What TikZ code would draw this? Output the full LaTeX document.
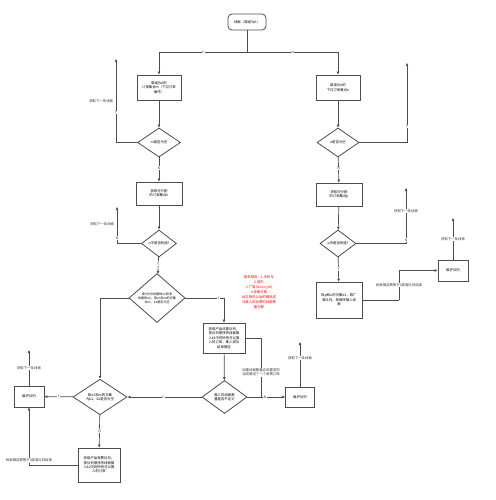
\documentclass[tikz,border=0pt]{standalone}
\usepackage{fontspec}
\newfontfamily\cjk{Noto Sans CJK SC}
\usetikzlibrary{shapes.geometric,arrows.meta}

\begin{document}
\begin{tikzpicture}[x=1pt,y=-1pt,
    line/.style={draw=black!70,line width=0.7pt},
    flow/.style={line,-{Triangle[length=3pt,width=2.4pt]}},
    box/.style={draw=black!70,line width=0.8pt,fill=white,align=center,inner sep=1pt,font=\cjk\fontsize{3.4}{4.4}\selectfont},
    startbox/.style={box,rounded corners=4pt},
    cond/.style={box,diamond,inner sep=0pt},
    lbl/.style={font=\cjk\fontsize{3.4}{4.4}\selectfont,fill=white,inner sep=0.6pt,text=black!80,align=center}]
        \useasboundingbox (0,0) rectangle (495,500);
        % start
        \node[startbox,minimum width=38pt,minimum height=16pt] (start) at (247,22) {线索（渠道为A）};
        \coordinate (split) at (247,52);
        % left column
        \node[box,minimum width=44pt,minimum height=25pt] (b1) at (159,87.5) {渠道为A的\\订单集合m（下过订单\\操作）};
        \node[cond,minimum width=43pt,minimum height=29pt] (d1) at (159,142.5) {m是否为空};
        \node[box,minimum width=46pt,minimum height=23pt] (b2) at (159,193.5) {获取可分配\\的订单集合n};
        \node[cond,minimum width=35pt,minimum height=27pt] (d2) at (159,243.5) {n中是否有值?};
        \node[cond,minimum width=56pt,minimum height=34pt,font=\cjk\fontsize{3.1}{4}\selectfont] (d3) at (157,298) {按n分为优惠的n1和非\\优惠的n2，取n1和m的交集\\为k1，k1是否为空};
        \node[box,minimum width=42pt,minimum height=30pt] (b4) at (224,338) {获取产品优惠队列，\\按队列顺序将线索推\\入k1中的所有可以推\\入的订单，推入成功\\结束推送};
        \node[cond,minimum width=45pt,minimum height=33pt] (d4) at (224.5,397) {推入的线索数\\量是否不足3?};
        \node[box,minimum width=29pt,minimum height=20pt] (mq2) at (300,397) {维护队列};
        \node[cond,minimum width=54pt,minimum height=30pt] (d5) at (100,397) {取n2和m的交集\\为k2，k2是否为空};
        \node[box,minimum width=30pt,minimum height=21pt] (mq3) at (29,396.5) {维护队列};
        \node[box,minimum width=42pt,minimum height=34pt] (b5) at (99,465) {获取产品免费队列，\\按队列顺序将线索推\\入k2中的所有可以推\\入的订单};
        % right column
        \node[box,minimum width=44pt,minimum height=25pt] (rb1) at (338,87.5) {渠道为A的\\下过订单集合o};
        \node[cond,minimum width=42pt,minimum height=29pt] (rd1) at (338,142.5) {o是否为空};
        \node[box,minimum width=46pt,minimum height=23pt] (rb2) at (339,194.5) {获取可分配\\的订单集合p};
        \node[cond,minimum width=36pt,minimum height=27pt] (rd2) at (338,243.5) {p中是否有值?};
        \node[box,minimum width=46pt,minimum height=36pt] (rb3) at (339,300) {取p和o的交集k3，取厂\\商队列，按顺序推入线\\索};
        \node[box,minimum width=30pt,minimum height=21pt] (mq1) at (453,270.5) {维护队列};
        % red note
        \node[font=\cjk\fontsize{3.4}{5}\selectfont,text=red,align=center] (note) at (259,292) {推荐规则：1.手机号\\2.城市\\3.厂商(factoryId)\\4.收集天数\\经过筛选以后的推荐成\\功推入的收费的线索数\\量分数};
        % free ends
        \coordinate (up1) at (116,59);
        \coordinate (up2) at (117,207);
        \coordinate (up3) at (300,342);
        \coordinate (up4) at (29,350);
        \coordinate (up5) at (453,218);
        \coordinate (up6) at (407,63);
        \coordinate (up7) at (406,188);
        \coordinate (k3turn) at (399,300);
        \coordinate (join) at (261,397);
        % connectors
        \draw[line] (start) -- (split);
        \draw[flow] (split) -| node[lbl,pos=0.25] {Y} (b1);
        \draw[flow] (split) -| node[lbl,pos=0.25] {N} (rb1);
        \draw[flow] (b1) -- (d1);
        \draw[flow] (d1) -| node[lbl,pos=0.68] {Y} node[lbl,pos=0.75,left=2pt,fill=none] {获取下一条线索} (up1);
        \draw[flow] (d1) -- node[lbl,pos=0.44] {N} (b2);
        \draw[flow] (b2) -- (d2);
        \draw[flow] (d2) -| node[lbl,pos=0.575] {N} node[lbl,pos=0.77,left=2pt,fill=none] {获取下一条线索} (up2);
        \draw[flow] (d2) -- node[lbl,pos=0.4] {Y} (d3);
        \draw[flow] (d3) -| node[lbl,pos=0.43] {Y} (b4);
        \draw[flow] (d3) -| (d5);
        \draw[flow] (b4) -- (d4);
        \draw[line] (b4.east) -| node[lbl,pos=0.79] {如果线索数量达到要求的\\话则推送了一个收费订单} (join);
        \draw[flow] (d4) -- node[lbl,pos=0.47] {N} (mq2);
        \draw[flow] (mq2) -- node[lbl,pos=0.64] {获取下一条线索} (up3);
        \draw[flow] (d4) -- node[lbl,pos=0.52] {Y} (d5);
        \draw[flow] (d5) -- node[lbl,pos=0.5] {Y} (mq3);
        \draw[flow] (mq3) -- node[lbl,pos=0.5] {获取下一条线索} (up4);
        \draw[flow] (d5) -- node[lbl,pos=0.5] {N} (b5);
        \draw[flow] (b5) -| node[lbl,pos=0.54] {线索推送数等于3或者队列结束} (mq3);
        \draw[flow] (rb1) -- (rd1);
        \draw[flow] (rd1) -| node[lbl,pos=0.6] {Y} (up6);
        \draw[flow] (rd1) -- node[lbl,pos=0.44] {N} (rb2);
        \draw[flow] (rb2) -- (rd2);
        \draw[flow] (rd2) -| node[lbl,pos=0.53] {N} node[lbl,pos=0.79] {获取下一条线索} (up7);
        \draw[flow] (rd2) -- node[lbl,pos=0.48] {Y} (rb3);
        \draw[line] (rb3) -- (k3turn);
        \draw[flow] (k3turn) |- node[lbl,pos=0.25] {线索推送数等于3或者队列结束} (mq1);
        \draw[flow] (mq1) -- node[lbl,pos=0.5] {获取下一条线索} (up5);
    \end{tikzpicture}
\end{document}
